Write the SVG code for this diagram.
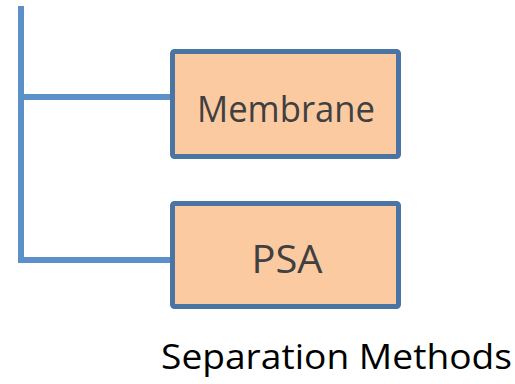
<svg xmlns="http://www.w3.org/2000/svg" width="515" height="384" viewBox="0 0 515 384">
  <style>
    .box { fill: #FBCAA0; stroke: #4A74A3; stroke-width: 5; }
    .conn { fill: none; stroke: #5B90C8; stroke-width: 6; stroke-linecap: butt; }
    .label { font-family: "Open Sans", "Liberation Sans", sans-serif; fill: #404040; text-anchor: middle; }
    .title { font-family: "Open Sans", "Liberation Sans", sans-serif; fill: #000000; }
  </style>
  <rect width="515" height="384" fill="#FFFFFF"/>
  <g id="connectors">
    <line class="conn" x1="21" y1="6" x2="21" y2="263"/>
    <line class="conn" x1="18" y1="97" x2="173" y2="97"/>
    <line class="conn" x1="18" y1="260" x2="173" y2="260"/>
  </g>
  <g id="membrane">
    <rect class="box" x="172.5" y="51.5" width="226" height="105" rx="2"/>
    <text class="label" x="286" y="121.5" font-size="37" textLength="178" lengthAdjust="spacingAndGlyphs">Membrane</text>
  </g>
  <g id="psa">
    <rect class="box" x="172.5" y="203.5" width="226" height="103" rx="2"/>
    <text class="label" x="287" y="273" font-size="39" textLength="71" lengthAdjust="spacingAndGlyphs">PSA</text>
  </g>
  <g id="title">
    <text class="title" x="161" y="369" font-size="34" textLength="351" lengthAdjust="spacingAndGlyphs">Separation Methods</text>
  </g>
</svg>
